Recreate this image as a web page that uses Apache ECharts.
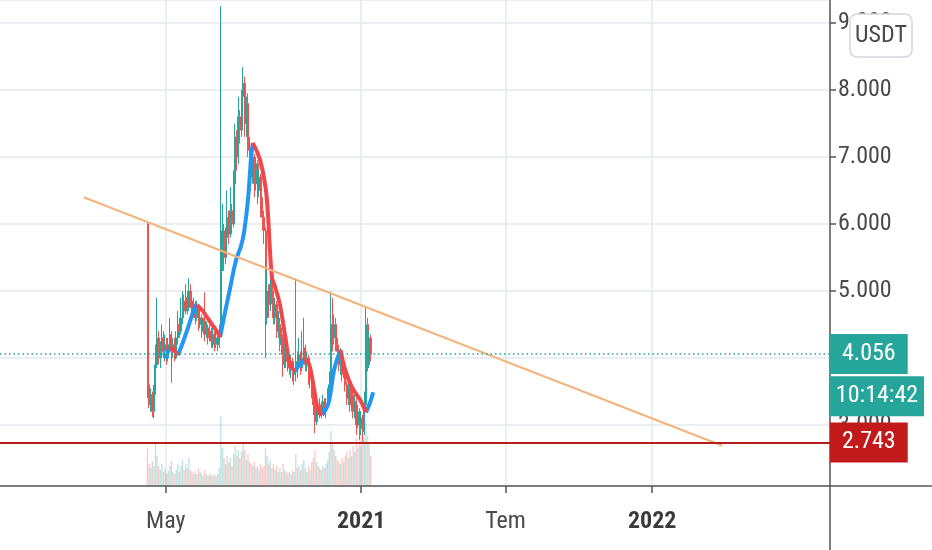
<!DOCTYPE html>
<html><head><meta charset="utf-8">
<script src="https://cdn.jsdelivr.net/npm/echarts@6/dist/echarts.min.js"></script>
<style>html,body{margin:0;padding:0;background:#fff}#c{width:932px;height:550px}</style>
</head><body><div id="c"></div>
<script>
const FONT = "'Liberation Sans Narrow','Roboto Condensed','Arial Narrow',Roboto,sans-serif";
// ---- data ----
const startDate = '2020-04-08';
const stepDays = 2;
// [open, close, low, high]
const ohlc = [
[6.00,3.60,3.40,6.02],[3.60,3.30,3.25,3.75],[3.30,3.45,3.20,3.55],[3.45,3.20,3.12,3.50],[3.20,3.50,3.10,3.60],
[3.50,3.90,3.45,4.20],[3.90,4.30,3.85,4.90],[4.30,4.00,3.90,4.40],[4.00,4.10,3.85,4.25],[4.10,4.30,4.00,4.50],
[4.30,4.10,4.00,4.40],[4.10,4.20,3.95,4.35],[4.20,4.00,3.90,4.30],[4.00,4.20,3.95,4.30],[4.20,4.35,4.10,4.60],
[4.35,4.10,3.63,4.40],[4.10,4.20,4.00,4.30],[4.20,4.00,3.95,4.30],[4.00,4.30,3.98,4.40],[4.30,4.50,4.20,4.70],
[4.50,4.40,4.30,4.60],[4.40,4.60,4.35,4.90],[4.60,4.85,4.50,5.00],[4.85,4.70,4.60,4.95],[4.70,4.90,4.65,5.10],
[4.90,4.75,4.65,5.00],[4.75,5.00,4.70,5.19],[5.00,4.85,4.75,5.10],[4.85,4.70,4.60,4.95],[4.70,4.80,4.60,4.90],
[4.80,4.60,4.50,4.85],[4.60,4.75,4.55,4.85],[4.75,4.50,4.40,4.80],[4.50,4.60,4.45,4.70],[4.60,4.40,4.30,4.65],
[4.40,4.55,4.35,4.60],[4.55,4.35,4.25,4.98],[4.35,4.45,4.30,4.55],[4.45,4.30,4.20,4.50],[4.30,4.40,4.25,4.50],
[4.40,4.25,4.15,4.45],[4.25,4.35,4.15,4.45],[4.35,4.20,4.10,4.40],[4.20,4.30,4.15,4.40],[4.30,4.20,4.10,4.35],
[4.20,4.40,4.15,4.50],[4.40,5.40,4.35,9.25],[5.40,5.90,5.30,6.30],[5.90,5.50,5.30,6.00],[5.50,5.80,5.40,5.95],
[5.80,6.10,5.70,6.50],[6.10,5.85,5.70,6.20],[5.85,6.20,5.80,6.55],[6.20,6.00,5.85,6.30],[6.00,6.60,5.95,6.80],
[6.60,7.30,6.50,7.50],[7.30,7.00,6.80,7.40],[7.00,7.60,6.90,7.90],[7.60,7.40,7.20,7.70],[7.40,7.90,7.30,8.00],
[7.90,8.10,7.70,8.34],[8.10,7.50,7.30,8.20],[7.50,7.80,7.30,7.90],[7.80,7.10,7.00,7.95],[7.10,7.00,6.80,7.30],
[7.00,6.70,6.50,7.10],[6.70,7.00,6.60,7.10],[7.00,6.60,6.40,7.05],[6.60,6.90,6.50,7.00],[6.90,6.50,6.30,6.95],
[6.50,6.70,6.40,6.80],[6.70,6.20,6.10,6.75],[6.20,6.10,5.90,6.40],[6.10,5.90,5.70,6.20],[5.90,4.60,4.00,5.95],
[4.60,5.00,4.50,5.30],[5.00,4.80,4.60,5.10],[4.80,5.10,4.70,5.20],[5.10,4.90,4.80,5.15],[4.90,4.60,4.50,5.00],
[4.60,4.80,4.50,4.90],[4.80,4.40,4.30,4.85],[4.40,4.50,4.30,4.70],[4.50,4.20,4.10,4.60],[4.20,4.30,4.05,4.45],
[4.30,3.90,3.72,4.35],[3.90,4.10,3.85,4.30],[4.10,3.95,3.85,4.20],[3.95,4.00,3.80,4.10],[4.00,3.85,3.75,4.05],
[3.85,3.95,3.70,4.05],[3.95,3.75,3.65,4.00],[3.75,3.85,3.60,3.95],[3.85,3.80,3.65,5.19],[3.80,3.95,3.70,4.10],
[3.95,4.05,3.85,4.30],[4.05,3.85,3.75,4.10],[3.85,4.00,3.80,4.40],[4.00,4.15,3.90,4.60],[4.15,3.90,3.80,4.20],
[3.90,4.00,3.80,4.10],[4.00,3.70,3.60,4.05],[3.70,3.80,3.55,3.90],[3.80,3.50,3.40,3.85],[3.50,3.30,3.15,3.55],
[3.30,3.05,2.88,3.35],[3.05,3.20,3.00,3.30],[3.20,3.15,3.05,3.30],[3.15,3.30,3.10,3.40],[3.30,3.20,3.10,3.35],
[3.20,3.35,3.15,3.45],[3.35,3.25,3.15,3.40],[3.25,3.30,3.10,3.40],[3.30,3.45,3.25,3.55],[3.45,3.60,3.40,3.80],
[3.60,4.50,3.55,4.99],[4.50,4.30,4.10,4.90],[4.30,4.50,4.20,4.65],[4.50,4.20,4.10,4.60],[4.20,4.10,3.95,4.30],
[4.10,3.90,3.80,4.20],[3.90,4.00,3.75,4.15],[4.00,3.75,3.65,4.05],[3.75,3.90,3.70,4.00],[3.90,3.60,3.50,3.95],
[3.60,3.40,3.30,3.65],[3.40,3.55,3.30,3.70],[3.55,3.30,3.20,3.60],[3.30,3.45,3.20,3.55],[3.45,3.20,3.10,3.50],
[3.20,3.35,3.10,3.45],[3.35,3.00,2.85,3.40],[3.00,3.20,2.95,3.30],[3.20,2.95,2.78,3.25],[2.95,3.10,2.85,3.20],
[3.10,2.90,2.75,3.15],[2.90,3.30,2.85,3.50],[3.30,4.50,3.25,4.75],[4.50,3.90,3.80,4.60],[3.90,4.30,3.85,4.40],
[4.30,4.056,3.95,4.35]
];
const volume = [
38,22,18,25,20,42,30,20,16,22, 14,18,12,15,20,25,14,12,16,22,
14,20,26,16,22,18,28,16,14,12, 15,12,18,14,12,10,16,12,10,12,
11,10,12,10,12,18,70,38,28,22, 30,24,28,20,32,40,30,36,28,34,
42,36,26,32,24,22,20,24,18,20, 16,22,18,20,38,30,22,26,18,22,
16,20,14,18,14,22,16,14,12,14, 12,16,14,32,18,20,16,22,26,18,
14,20,16,24,28,36,24,20,18,16, 20,18,22,26,34,55,42,36,30,26,
24,22,28,24,30,34,28,36,30,40, 34,48,38,52,40,55,48,62,50,44, 30
];
const maLine = [
['2020-05-01',3.99],['2020-05-05',4.15],['2020-05-11',4.12],['2020-05-16',4.04],['2020-05-22',4.22],
['2020-05-29',4.46],['2020-06-07',4.78],['2020-06-09',4.79],['2020-06-15',4.72],['2020-06-21',4.62],
['2020-06-28',4.50],['2020-07-04',4.40],['2020-07-08',4.31],['2020-07-14',4.67],['2020-07-20',5.01],
['2020-07-28',5.46],['2020-08-03',5.66],['2020-08-07',5.87],['2020-08-12',6.36],['2020-08-16',7.00],
['2020-08-18',7.21],['2020-08-27',6.96],['2020-09-03',6.55],['2020-09-06',6.16],['2020-09-11',5.21],
['2020-09-15',5.06],['2020-09-21',4.80],['2020-09-28',4.30],['2020-10-04',3.90],['2020-10-10',3.80],
['2020-10-17',3.92],['2020-10-22',3.97],['2020-10-27',3.93],['2020-11-01',3.67],['2020-11-08',3.22],
['2020-11-13',3.15],['2020-11-21',3.33],['2020-11-28',3.82],['2020-12-06',4.12],['2020-12-12',3.82],
['2020-12-21',3.55],['2020-12-31',3.37],['2021-01-07',3.19],['2021-01-12',3.33],['2021-01-16',3.49]
];
const trendLine = [['2020-01-19',6.40],['2022-03-30',2.69]];
const lastPrice = 4.056;
const supportLevel = 2.743;
const countdown = '10:14:42';
const currency = 'USDT';
const xTickDates = ['2020-05-01','2021-01-01','2021-07-01','2022-01-01'];
const xTickLabels = ['May','2021','Tem','2022'];
const xTickBold = [false,true,false,true];
const xRange = ['2019-10-06','2022-08-12'];
const yRange = [2.09, 9.343];

// ---- build ----
const DAY = 86400000;
function ts(s){const p=s.split('-').map(Number);return Date.UTC(p[0],p[1]-1,p[2]);}
const t0 = ts(startDate);
const times = ohlc.map((_,i)=>t0+i*stepDays*DAY);
const UP='#26a69a', DN='#ef5350';
const candleData = ohlc.map((c,i)=>[times[i],c[0],c[1],c[2],c[3]]);
const volData = volume.map((v,i)=>({value:[times[i],v],itemStyle:{color: ohlc[i][1]>=ohlc[i][0]?'rgba(38,166,154,0.30)':'rgba(239,83,80,0.30)'}}));
const maT = maLine.map(p=>[ts(p[0]),p[1]]);
const upArr = maT.map(p=>[p[0],'-']), dnArr = maT.map(p=>[p[0],'-']);
for(let i=0;i<maT.length-1;i++){
  const arr = maT[i+1][1]>maT[i][1]?upArr:dnArr;
  arr[i]=maT[i]; arr[i+1]=maT[i+1];
}
const tickTs = xTickDates.map(ts);

const chart = echarts.init(document.getElementById('c'),null,{renderer:'canvas'});
const option = {
  animation:false,
  backgroundColor:'#fff',
  grid:{left:0,right:102,top:0,bottom:64,containLabel:false,outerBoundsMode:'none'},
  xAxis:{
    type:'value', min:ts(xRange[0]), max:ts(xRange[1]), scale:true,
    axisLine:{show:true,onZero:false,lineStyle:{color:'#555',width:1.5}},
    axisTick:{show:true,length:7,customValues:tickTs,lineStyle:{color:'#555',width:1.5}},
    axisLabel:{customValues:tickTs,margin:24,fontFamily:FONT,fontSize:24,color:'#4a4a4a',
      formatter:function(v){const i=tickTs.indexOf(v);if(i<0)return '';return xTickBold[i]?'{b|'+xTickLabels[i]+'}':xTickLabels[i];},
      rich:{b:{fontFamily:FONT,fontSize:24,fontWeight:'bold',color:'#3a3a3a'}}},
    splitLine:{show:true,lineStyle:{color:'#e6eaee',width:1.5}}
  },
  yAxis:[{
    type:'value', position:'right', min:yRange[0], max:yRange[1], splitNumber:7, scale:true,
    axisLine:{show:true,lineStyle:{color:'#555',width:1.5}},
    axisTick:{show:true,length:6,lineStyle:{color:'#555',width:1.5}},
    axisLabel:{showMinLabel:false,showMaxLabel:false,margin:8,fontFamily:FONT,fontSize:24,color:'#4a4a4a',
      formatter:function(v){return v.toFixed(3);}},
    splitLine:{show:true,lineStyle:{color:'#e6eaee',width:1.5}}
  },{
    type:'value', min:0, max:486, show:false, splitLine:{show:false}
  }],
  series:[
    {type:'bar',name:'vol',yAxisIndex:1,data:volData,barWidth:1.4,z:1,silent:true},
    {type:'candlestick',name:'price',data:candleData,barWidth:1.5,z:2,
      itemStyle:{color:UP,color0:DN,borderColor:UP,borderColor0:DN,borderWidth:1},
      markLine:{symbol:['none','none'],silent:true,z:5,
        data:[
          {yAxis:lastPrice,lineStyle:{color:UP,type:[1.5,3],width:1.5},
           label:{show:true,position:'end',distance:0,formatter:lastPrice.toFixed(3),color:'#fff',backgroundColor:UP,
             fontFamily:FONT,fontSize:24,padding:[9,12,9,12],lineHeight:22}},
          {yAxis:supportLevel,lineStyle:{color:'#b71c1c',type:'solid',width:2},
           label:{show:true,position:'end',distance:0,formatter:supportLevel.toFixed(3),color:'#fff',backgroundColor:'#c21a1a',
             fontFamily:FONT,fontSize:24,padding:[9,12,9,12],lineHeight:22}}
        ]}
    },
    {type:'line',name:'ma-up',data:upArr,smooth:0.4,showSymbol:false,connectNulls:false,z:3,
      lineStyle:{color:'#2196f3',width:4},itemStyle:{color:'#2196f3'}},
    {type:'line',name:'ma-dn',data:dnArr,smooth:0.4,showSymbol:false,connectNulls:false,z:3,
      lineStyle:{color:'#f0484a',width:4},itemStyle:{color:'#f0484a'}},
    {type:'line',name:'trend',data:trendLine.map(p=>[ts(p[0]),p[1]]),showSymbol:false,z:4,
      lineStyle:{color:'#f2b47c',width:2},itemStyle:{color:'#f2b47c'}}
  ]
};
chart.setOption(option);
const py = chart.convertToPixel({yAxisIndex:0}, lastPrice);
const axX = chart.convertToPixel({xAxisIndex:0}, ts(xRange[1]));
const axY = chart.convertToPixel({yAxisIndex:0}, yRange[0]);
chart.setOption({graphic:[
  {type:'line',z:100,shape:{x1:axX,y1:axY,x2:932,y2:axY},style:{stroke:'#555',lineWidth:1.5}},
  {type:'line',z:100,shape:{x1:axX,y1:axY,x2:axX,y2:550},style:{stroke:'#555',lineWidth:1.5}},
  {type:'rect',z:100,shape:{x:axX,y:py+22,width:94,height:40},style:{fill:UP}},
  {type:'text',z:101,x:axX+47,y:py+42,style:{text:countdown,fill:'#fff',font:'24px '+FONT,align:'center',verticalAlign:'middle'}},
  {type:'rect',z:100,shape:{x:850,y:14,width:62,height:43,r:7},style:{fill:'#fff',stroke:'#d4d7dc',lineWidth:1.5}},
  {type:'text',z:101,x:881,y:36,style:{text:currency,fill:'#4a4a4a',font:'24px '+FONT,align:'center',verticalAlign:'middle'}}
]});
</script></body></html>
